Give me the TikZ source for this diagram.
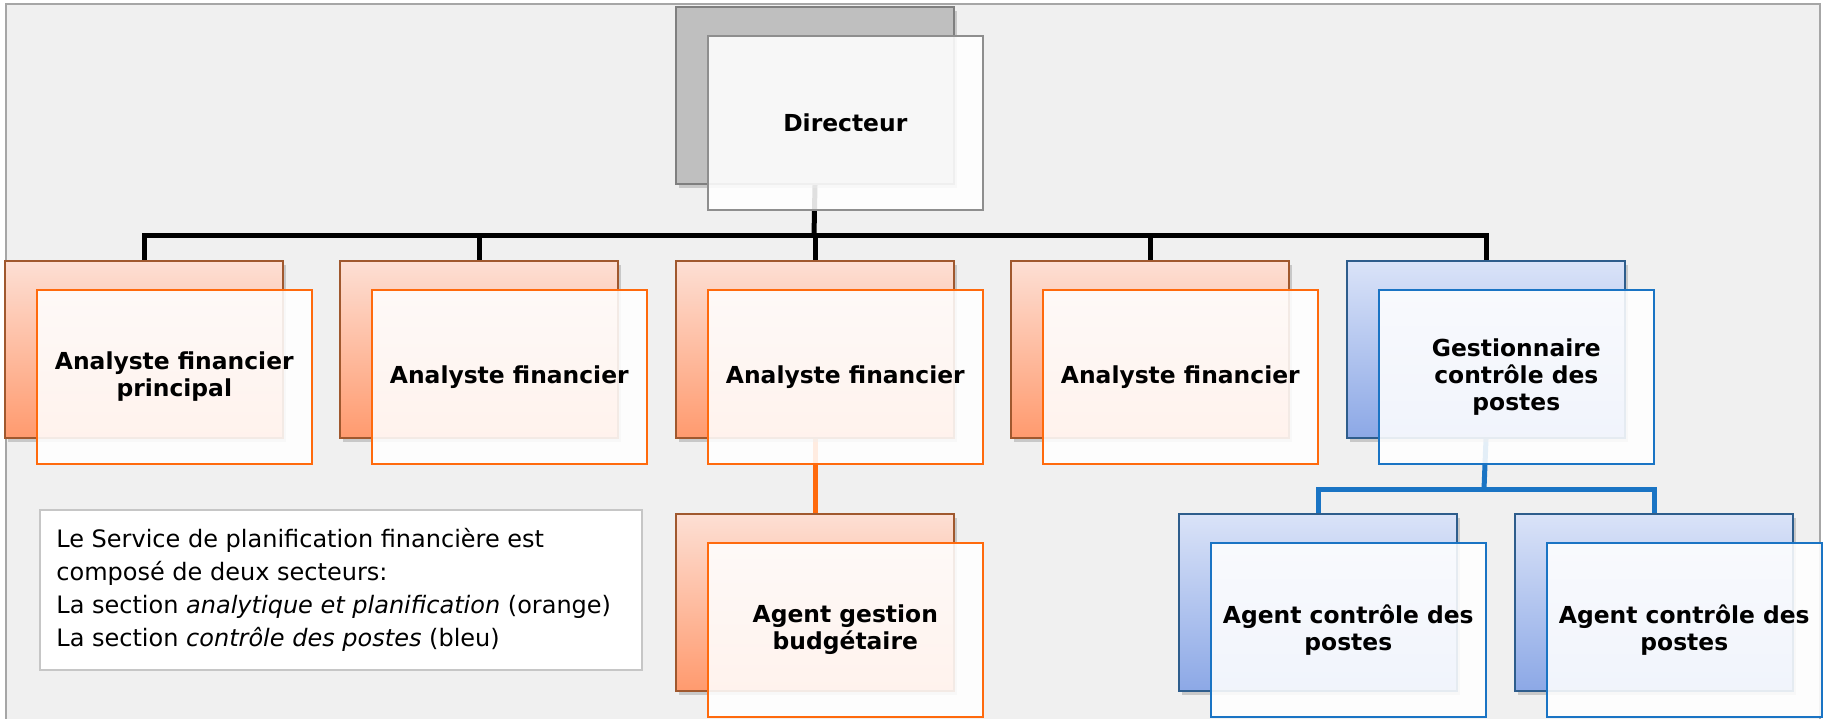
\documentclass[tikz,border=0pt]{standalone}
\usepackage{fontspec}
\setmainfont{DejaVu Sans}
\usetikzlibrary{shadows}
\pgfdeclarelayer{bg}
\pgfsetlayers{bg,main}

\definecolor{pagebg}{HTML}{F0F0F0}
\definecolor{framegray}{HTML}{A6A6A6}
\definecolor{grayfill}{HTML}{BFBFBF}
\definecolor{grayedge}{HTML}{7F7F7F}
\definecolor{grayfront}{HTML}{8E8E8E}
\definecolor{orangetop}{HTML}{FDDFD4}
\definecolor{orangebot}{HTML}{FF9A6E}
\definecolor{orangeedge}{HTML}{A0582E}
\definecolor{orangeline}{HTML}{FF6A0D}
\definecolor{bluetop}{HTML}{DAE3F8}
\definecolor{bluebot}{HTML}{8CA8E6}
\definecolor{blueedge}{HTML}{2E5D8C}
\definecolor{blueline}{HTML}{1A74C4}
\definecolor{noteedge}{HTML}{C6C6C6}

\tikzset{
  backbox/.style={rectangle, minimum width=139pt, minimum height=88.5pt,
    inner sep=0pt, line width=1pt,
    drop shadow={shadow xshift=1.5pt, shadow yshift=-2pt, opacity=0.35}},
  graybox/.style={backbox, draw=grayedge, fill=grayfill},
  orangebox/.style={backbox, draw=orangeedge, top color=orangetop, bottom color=orangebot},
  bluebox/.style={backbox, draw=blueedge, top color=bluetop, bottom color=bluebot},
  frontbox/.style={rectangle, minimum width=137.5pt, minimum height=87pt,
    inner sep=2pt, line width=0.8pt, fill=white, fill opacity=0.88, text opacity=1,
    align=center, font=\fontsize{11.7}{13.4}\selectfont\bfseries},
  grayfrontbox/.style={frontbox, draw=grayfront},
  orangefrontbox/.style={frontbox, draw=orangeline},
  bluefrontbox/.style={frontbox, draw=blueline},
  blackconn/.style={line width=2.5pt, draw=black},
  orangeconn/.style={line width=2.5pt, draw=orangeline},
  blueconn/.style={line width=2.5pt, draw=blueline},
  notebox/.style={rectangle, draw=noteedge, fill=white, line width=1pt,
    minimum width=301pt, minimum height=80pt, inner sep=0pt},
  notetext/.style={align=left, inner sep=0pt,
    font=\fontsize{12}{16.5}\selectfont}
}

% back panel at the given top-left corner, white panel with the label offset over it
\newcommand{\orgbox}[6]{%
  \node[#4, anchor=north west] (#1b) at (#2,#3) {};
  \node[#5, anchor=north west] (#1) at ([xshift=16pt,yshift=-14.5pt]#1b.north west) {#6};
}

\begin{document}
\begin{tikzpicture}[x=0.5pt,y=-0.5pt]
  \clip (0,0) rectangle (1825,718);

  % top level
  \orgbox{dir}{675}{6}{graybox}{grayfrontbox}{Directeur}

  % second level
  \orgbox{afp}{4}{260}{orangebox}{orangefrontbox}{Analyste financier\\principal}
  \orgbox{afa}{339}{260}{orangebox}{orangefrontbox}{Analyste financier}
  \orgbox{afb}{675}{260}{orangebox}{orangefrontbox}{Analyste financier}
  \orgbox{afc}{1010}{260}{orangebox}{orangefrontbox}{Analyste financier}
  \orgbox{gcp}{1346}{260}{bluebox}{bluefrontbox}{Gestionnaire\\contrôle des\\postes}

  % third level
  \orgbox{agb}{675}{513}{orangebox}{orangefrontbox}{Agent gestion\\budgétaire}
  \orgbox{acp}{1178}{513}{bluebox}{bluefrontbox}{Agent contrôle des\\postes}
  \orgbox{acq}{1514}{513}{bluebox}{bluefrontbox}{Agent contrôle des\\postes}

  % legend
  \node[notebox] (note) at (341,590) {};
  \node[notetext, anchor=west] (notetxt) at (56,590) {%
    Le Service de planification financière est\\
    composé de deux secteurs:\\
    La section \textit{analytique et planification} (orange)\\
    La section \textit{contrôle des postes} (bleu)};

  \begin{pgfonlayer}{bg}
    \fill[white] (0,0) rectangle (1825,718);
    \filldraw[fill=pagebg, draw=framegray, line width=1pt] (6,760) -- (6,4) -- (1820,4) -- (1820,760);

    % black tree from the director
    \coordinate (busblack) at (814,235);
    \draw[blackconn] (dirb.south) -- (busblack);
    \draw[blackconn] (afpb.north) |- (busblack) -| (gcpb.north);
    \draw[blackconn] (afab.north) -- (afab.north |- busblack);
    \draw[blackconn] (afbb.north) -- (afbb.north |- busblack);
    \draw[blackconn] (afcb.north) -- (afcb.north |- busblack);

    % orange branch
    \draw[orangeconn] (afbb.south) -- (agbb.north);

    % blue branch
    \coordinate (busblue) at (1484,489);
    \draw[blueconn] (gcpb.south) -- (busblue);
    \draw[blueconn] (acpb.north) |- (busblue) -| (acqb.north);
  \end{pgfonlayer}
\end{tikzpicture}
\end{document}
